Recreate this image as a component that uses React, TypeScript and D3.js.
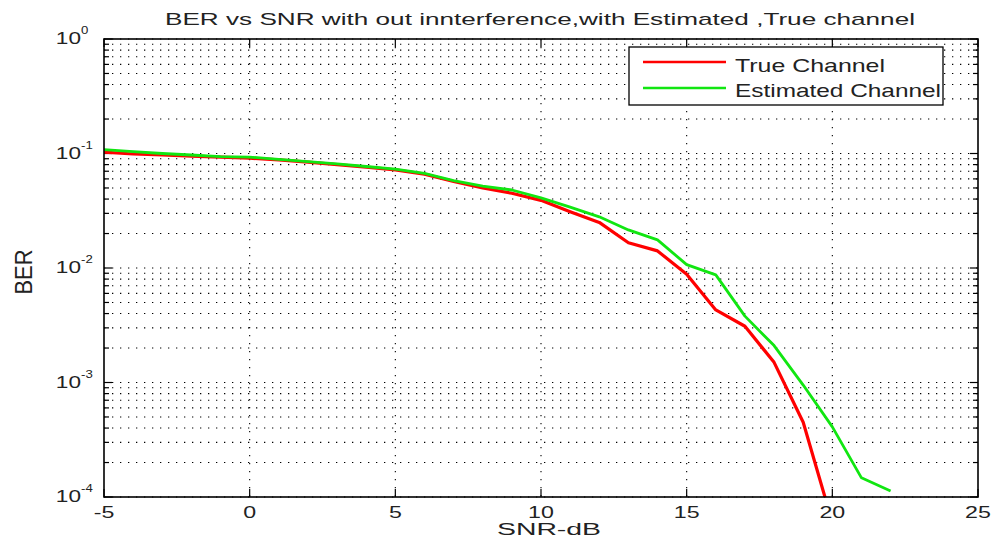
import React from "react";
import * as d3 from "d3";

// SNR axis (dB) and bit error rates for each receiver
const snrTrue = [-5, -4, -3, -2, -1, 0, 1, 2, 3, 4, 5, 6, 7, 8, 9, 10, 11, 12, 13, 14, 15, 16, 17, 18, 19, 20];
const berTrue = [0.103, 0.099, 0.097, 0.095, 0.093, 0.091, 0.088, 0.084, 0.080, 0.076, 0.072, 0.066, 0.057, 0.050, 0.045, 0.039, 0.031, 0.025, 0.0166, 0.0141, 0.0088, 0.0043, 0.0031, 0.0015, 0.00045, 0.00006];

const snrEst = [-5, -4, -3, -2, -1, 0, 1, 2, 3, 4, 5, 6, 7, 8, 9, 10, 11, 12, 13, 14, 15, 16, 17, 18, 19, 20, 21, 22];
const berEst = [0.108, 0.104, 0.100, 0.097, 0.094, 0.093, 0.089, 0.085, 0.081, 0.077, 0.073, 0.067, 0.058, 0.052, 0.048, 0.041, 0.034, 0.028, 0.0215, 0.0176, 0.0107, 0.0087, 0.0038, 0.0021, 0.00095, 0.00041, 0.000147, 0.000113];

const xTicks = [-5, 0, 5, 10, 15, 20, 25];
const yDecades = [0, -1, -2, -3, -4];

const W = 995;
const H = 552;
const M = { left: 104, right: 978, top: 39, bottom: 497 };
const FONT = "'Liberation Sans', Arial, Helvetica, sans-serif";

// text with horizontally stretched glyphs
function SText({ x, y, children, anchor = "middle", size = 17, sx = 1.4 }: any) {
  return (
    <text
      transform={`translate(${x},${y}) scale(${sx},1)`}
      textAnchor={anchor}
      fontSize={size}
      fontFamily={FONT}
      fill="#222"
    >
      {children}
    </text>
  );
}

// text fitted to a given length
function LText({ x, y, children, anchor = "middle", size = 17, len }: any) {
  return (
    <text
      x={x}
      y={y}
      textAnchor={anchor}
      fontSize={size}
      fontFamily={FONT}
      fill="#222"
      textLength={len}
      lengthAdjust="spacingAndGlyphs"
    >
      {children}
    </text>
  );
}

export default function App() {
  const x = d3.scaleLinear().domain([-5, 25]).range([M.left, M.right]);
  const y = d3.scaleLog().domain([1e-4, 1]).range([M.bottom, M.top]);

  const line = d3
    .line<[number, number]>()
    .x((d) => x(d[0]))
    .y((d) => y(d[1]));

  const trueData = snrTrue.map((s, i) => [s, berTrue[i]] as [number, number]);
  const estData = snrEst.map((s, i) => [s, berEst[i]] as [number, number]);

  // minor log positions (2..9 within each decade)
  const minor: number[] = [];
  for (let e = -4; e < 0; e++) for (let k = 2; k <= 9; k++) minor.push(k * Math.pow(10, e));
  const majors = yDecades.map((e) => Math.pow(10, e));

  const dotted = { stroke: "#000", strokeWidth: 1.1, strokeDasharray: "1.3 6.7" };

  return (
    <svg width={W} height={H} style={{ position: "absolute", left: 0, top: 0, background: "#fff" }}>
      <defs>
        <clipPath id="plotClip">
          <rect x={M.left} y={M.top} width={M.right - M.left} height={M.bottom - M.top} />
        </clipPath>
      </defs>
      <rect x={0} y={0} width={W} height={H} fill="#fff" />

      {/* grid */}
      <g>
        {[...majors, ...minor].map((v, i) => (
          <line key={"h" + i} x1={M.left} x2={M.right} y1={y(v)} y2={y(v)} {...dotted} />
        ))}
        {xTicks.slice(1, -1).map((t) => (
          <line key={"v" + t} x1={x(t)} x2={x(t)} y1={M.top} y2={M.bottom} {...dotted} />
        ))}
      </g>

      {/* ticks */}
      <g stroke="#000" strokeWidth={1.2}>
        {xTicks.map((t) => (
          <g key={"xt" + t}>
            <line x1={x(t)} x2={x(t)} y1={M.bottom} y2={M.bottom - 8} />
            <line x1={x(t)} x2={x(t)} y1={M.top} y2={M.top + 8} />
          </g>
        ))}
        {majors.map((v, i) => (
          <g key={"ym" + i}>
            <line x1={M.left} x2={M.left + 8} y1={y(v)} y2={y(v)} />
            <line x1={M.right} x2={M.right - 8} y1={y(v)} y2={y(v)} />
          </g>
        ))}
        {minor.map((v, i) => (
          <g key={"yn" + i}>
            <line x1={M.left} x2={M.left + 5} y1={y(v)} y2={y(v)} />
            <line x1={M.right} x2={M.right - 5} y1={y(v)} y2={y(v)} />
          </g>
        ))}
      </g>

      {/* data */}
      <g clipPath="url(#plotClip)" fill="none" strokeLinejoin="round">
        <path d={line(trueData) || ""} stroke="#ff0000" strokeWidth={3.2} />
        <path d={line(estData) || ""} stroke="#11e611" strokeWidth={2.8} />
      </g>

      {/* frame */}
      <rect x={M.left} y={M.top} width={M.right - M.left} height={M.bottom - M.top} fill="none" stroke="#000" strokeWidth={1.6} />

      {/* x tick labels */}
      {xTicks.map((t) => (
        <SText key={"xl" + t} x={x(t)} y={M.bottom + 21} size={16} sx={1.45}>
          {String(t)}
        </SText>
      ))}

      {/* y tick labels */}
      {yDecades.map((e) => (
        <g key={"yl" + e}>
          <SText x={M.left - 23} y={y(Math.pow(10, e)) + 5} anchor="end" size={17} sx={1.33}>
            10
          </SText>
          <SText x={M.left - 23} y={y(Math.pow(10, e)) - 5} anchor="start" size={11} sx={1.2}>
            {String(e)}
          </SText>
        </g>
      ))}

      {/* title and axis labels */}
      <LText x={540} y={25} size={17} len={750}>
        BER vs SNR with out innterference,with Estimated ,True channel
      </LText>
      <LText x={549} y={535} size={16} len={104}>
        SNR-dB
      </LText>
      <g transform="translate(32,272) rotate(-90) scale(1,1.3)">
        <text textAnchor="middle" fontSize={18} fontFamily={FONT} fill="#222" textLength={45} lengthAdjust="spacingAndGlyphs">
          BER
        </text>
      </g>

      {/* legend */}
      <g>
        <rect x={629} y={47} width={314} height={58} fill="#fff" stroke="#000" strokeWidth={1.3} />
        <line x1={643} x2={726} y1={62} y2={62} stroke="#ff0000" strokeWidth={2.6} />
        <line x1={643} x2={726} y1={88} y2={88} stroke="#11e611" strokeWidth={2.6} />
        <LText x={735} y={71.5} anchor="start" size={18.5} len={150}>
          True Channel
        </LText>
        <LText x={735} y={97} anchor="start" size={18.5} len={206}>
          Estimated Channel
        </LText>
      </g>
    </svg>
  );
}
